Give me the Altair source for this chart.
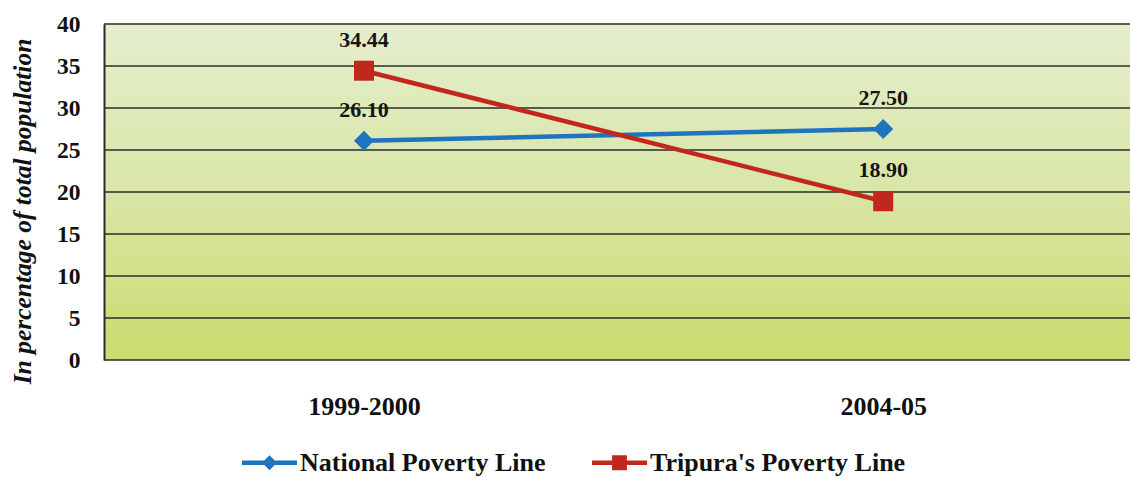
import altair as alt
import pandas as pd

# Poverty ratios (% of total population)
periods = ["1999-2000", "2004-05"]
series_names = ["National Poverty Line", "Tripura's Poverty Line"]
national = [26.10, 27.50]
tripura = [34.44, 18.90]
colors = ["#1f74c0", "#c1271d"]
y_ticks = [0, 5, 10, 15, 20, 25, 30, 35, 40]

rows = []
for p, n, t in zip(periods, national, tripura):
    rows.append({"period": p, "series": series_names[0], "value": n})
    rows.append({"period": p, "series": series_names[1], "value": t})
df = pd.DataFrame(rows)
grid_df = pd.DataFrame({"tick": y_ticks})

FONT = "Liberation Serif"

x_enc = alt.X(
    "period:N",
    sort=periods,
    scale=alt.Scale(type="point", padding=0.488, align=0.513),
    axis=alt.Axis(
        title=None, labelAngle=0, labelFont=FONT, labelFontWeight="bold",
        labelFontSize=26, labelColor="#111111", labelPadding=33,
        ticks=False, domain=False, grid=False,
    ),
)
y_scale = alt.Scale(domain=[0, 40], nice=False)
y_enc = alt.Y(
    "value:Q",
    scale=y_scale,
    axis=alt.Axis(
        values=y_ticks,
        title="In percentage of total population",
        titleFont=FONT, titleFontWeight="bold", titleFontStyle="italic",
        titleFontSize=25.5, titleColor="#111111",
        titleX=-82, titleY=187, titleAngle=-90, titleBaseline="middle",
        titleAlign="center",
        labelFont=FONT, labelFontWeight="bold", labelFontSize=23.5,
        labelColor="#111111", labelPadding=24,
        ticks=False, domain=True, domainColor="#2b2b2b", domainWidth=2,
        grid=False, zindex=1,
    ),
)

color_nolegend = alt.Color(
    "series:N", scale=alt.Scale(domain=series_names, range=colors), legend=None
)

# Legend glyphs: a line segment with the series marker on it
blue_glyph = "M-1,-0.08H1V0.08H-1Z M0,-0.27L0.27,0L0,0.27L-0.27,0Z"
red_glyph = "M-1,-0.08H1V0.08H-1Z M-0.27,-0.27H0.27V0.27H-0.27Z"

# Layer that only feeds the legend; it sits beneath the opaque background
legend_layer = alt.Chart(df).mark_point(filled=True, size=1, opacity=1).encode(
    x=x_enc, y=y_enc,
    color=alt.Color(
        "series:N", scale=alt.Scale(domain=series_names, range=colors), title=None,
        legend=alt.Legend(
            orient="none", direction="horizontal", legendX=138, legendY=411,
            symbolSize=3025, symbolStrokeWidth=0, symbolOpacity=1,
            labelFont=FONT, labelFontWeight="bold", labelFontSize=26,
            labelColor="#111111", labelOffset=3, columnPadding=46,
            padding=0, labelLimit=400,
        ),
    ),
    shape=alt.Shape(
        "series:N", scale=alt.Scale(domain=series_names, range=[blue_glyph, red_glyph]),
        title=None,
    ),
)

# Gradient plot background
bg = alt.Chart(df).mark_rect(
    color=alt.Gradient(
        gradient="linear",
        stops=[
            alt.GradientStop(color="#e5eecd", offset=0),
            alt.GradientStop(color="#d8e6a6", offset=0.5),
            alt.GradientStop(color="#c9dc6c", offset=1),
        ],
        x1=0, x2=0, y1=0, y2=1,
    )
).encode(
    x=alt.value(0), x2=alt.value("width"),
    y=alt.value(0), y2=alt.value("height"),
)

# Horizontal gridlines above the background, below the series
grid = alt.Chart(grid_df).mark_rule(color="#2b2b2b", strokeWidth=1.6).encode(
    y=alt.Y("tick:Q", scale=y_scale)
)

lines = alt.Chart(df).mark_line(strokeWidth=4.5).encode(
    x=x_enc, y=y_enc, color=color_nolegend
)

markers = alt.Chart(df).mark_point(filled=True, size=400, opacity=1).encode(
    x=x_enc, y=y_enc, color=color_nolegend,
    shape=alt.Shape(
        "series:N",
        scale=alt.Scale(domain=series_names, range=["diamond", "square"]),
        legend=None,
    ),
)

labels = alt.Chart(df).mark_text(
    dy=-31, font=FONT, fontWeight="bold", fontSize=22, color="#151515"
).encode(x=x_enc, y=y_enc, text=alt.Text("value:Q", format=".2f"))

chart = (
    alt.layer(legend_layer, bg, grid, lines, markers, labels)
    .resolve_scale(color="independent", shape="independent")
    .properties(
        width=1026, height=336,
        padding={"left": 104, "top": 24, "right": 0, "bottom": 117},
        autosize=alt.AutoSizeParams(type="none"),
        background="white",
    )
    .configure_view(stroke=None)
)

chart.save("out.html", embed_options={"renderer": "svg", "actions": False})
